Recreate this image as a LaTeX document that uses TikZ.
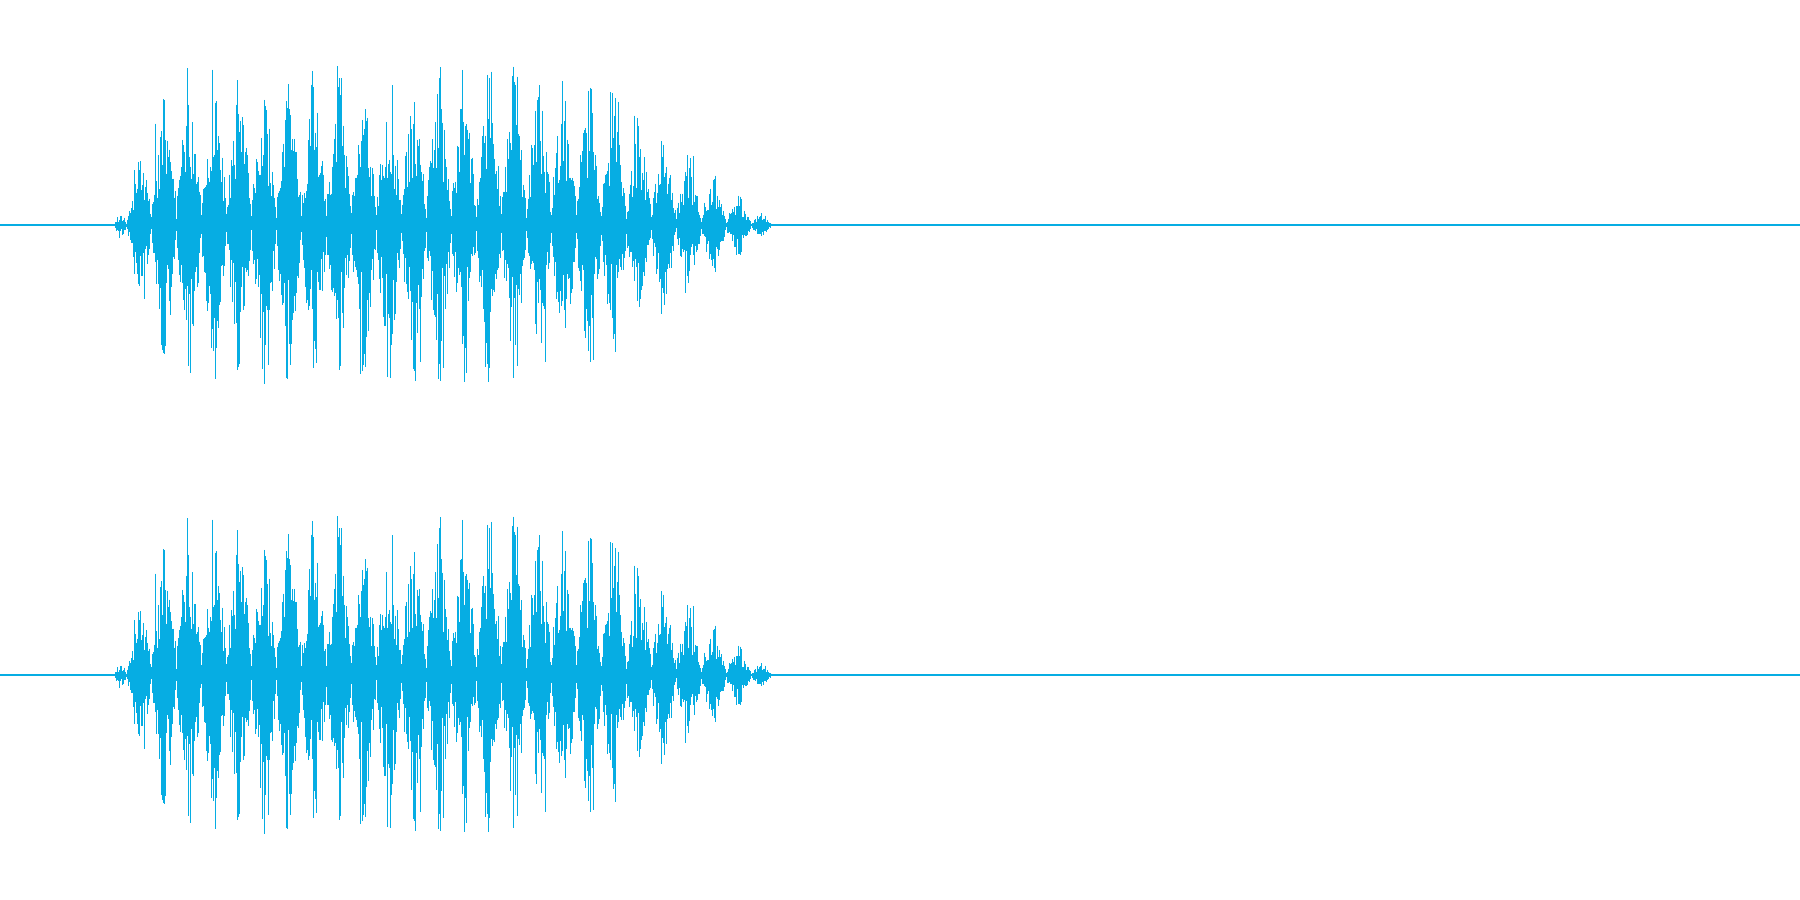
\documentclass[tikz,border=0pt]{standalone}
\usepackage{tikz}
\definecolor{wavecol}{RGB}{6,173,227}
\tikzset{
  wave/.style={draw=wavecol, line width=0.015cm},
  baseline/.style={draw=wavecol, line width=0.011cm}
}
\newcommand\wavechannel[1]{%
  \pgfmathsetseed{4711}%
  \foreach \i in {0,...,661}{%
    \pgfmathsetmacro\xx{115.5+\i}%
    \pgfmathsetmacro\E{\xx<170 ? 159*max(0.05,(\xx-115)/55) : (\xx<585 ? 159 : 159*max(0.02,(777-\xx)/192))}%
    \pgfmathsetmacro\dd{mod(\xx-164+1000,25)}%
    \pgfmathsetmacro\dd{max(0.001,1-min(\dd,25-\dd)/12.5)}%
    \pgfmathsetmacro\w{0.08+0.92*(\dd^0.7)}%
    \pgfmathsetmacro\pt{0.5*\dd*\dd*\dd*\dd}%
    \pgfmathsetmacro\ra{rnd}%
    \pgfmathsetmacro\rb{rnd}%
    \pgfmathsetmacro\rc{rnd}%
    \pgfmathsetmacro\rd{rnd}%
    \pgfmathsetmacro\up{\E*(\ra<\pt ? 0.86+0.14*\rb : \w*(0.32+0.58*\rb))}%
    \pgfmathsetmacro\dn{\E*(\rc<\pt ? 0.86+0.14*\rd : \w*(0.32+0.58*\rd))}%
    \draw[wave] (\xx,#1-\up) -- (\xx,#1+\dn);%
  }%
}
\begin{document}
\begin{tikzpicture}[x=0.01cm,y=-0.01cm]
  \fill[white] (0,0) rectangle (1800,900);
  \useasboundingbox (0,0) rectangle (1800,900);
  \coordinate (l1) at (0,225);
  \coordinate (r1) at (1800,225);
  \coordinate (l2) at (0,675);
  \coordinate (r2) at (1800,675);
  \draw[baseline] (l1) -- (r1);
  \draw[baseline] (l2) -- (r2);
  \wavechannel{225}
  \wavechannel{675}
\end{tikzpicture}
\end{document}
